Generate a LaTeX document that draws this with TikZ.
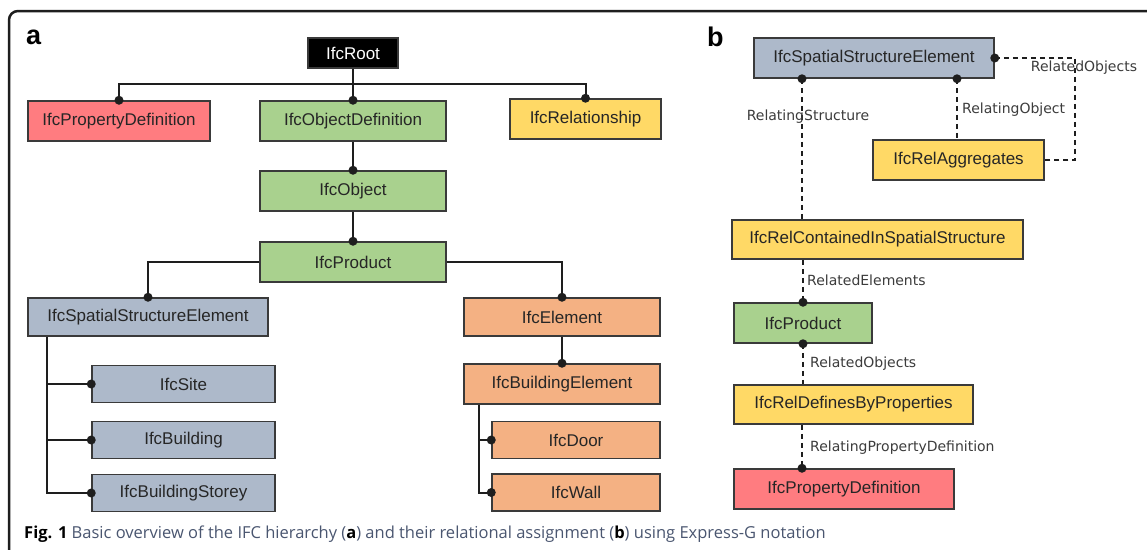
\documentclass[tikz,border=0pt]{standalone}
\usepackage{fontspec}
\setmainfont{Liberation Sans}
\newfontfamily\lblfont{DejaVu Sans}
\newfontfamily\capfont{Open Sans}
\definecolor{cpink}{HTML}{FF7C80}
\definecolor{cgreen}{HTML}{A9D18E}
\definecolor{cyellow}{HTML}{FFD966}
\definecolor{cblue}{HTML}{ADB9CA}
\definecolor{corange}{HTML}{F4B183}
\definecolor{cline}{HTML}{1E1E1E}
\definecolor{cborder}{HTML}{3A3A3A}
\definecolor{ctext}{HTML}{262626}
\definecolor{clabel}{HTML}{3C3C3C}
\definecolor{ccap}{HTML}{4A5670}
\begin{document}
\begin{tikzpicture}[x=1pt,y=-1pt,
  box/.style={draw=cborder,line width=1.5pt,inner sep=0pt,text=ctext,
    font=\fontsize{17}{17}\selectfont},
  conn/.style={draw=cline,line width=2pt},
  dconn/.style={draw=cline,line width=2pt,dash pattern=on 5pt off 4pt},
  dot/.style={circle,fill=cline,inner sep=0pt,minimum size=9pt},
  lbl/.style={text=clabel,inner sep=0pt,font=\lblfont\fontsize{14}{14}\selectfont},
  panel/.style={inner sep=0pt,font=\bfseries\fontsize{27}{27}\selectfont}]
\useasboundingbox (0,0) rectangle (1147,549);
\clip (0,0) rectangle (1147,549);
\fill[white] (0,0) rectangle (1147,549);
\draw[line width=2.5pt,draw=cline,rounded corners=9pt] (1160,11) -- (9,11) -- (9,560);

% panel labels
\node[panel,anchor=north west] (pa) at (26,30) {a};
\node[panel,anchor=north west] (pb) at (707,27) {b};

% ---------- panel a ----------
\node[box,fill=black,text=white,minimum width=90pt,minimum height=30pt] (root) at (353,53) {IfcRoot};
\node[box,fill=cpink,minimum width=182pt,minimum height=40pt] (propA) at (119,121) {IfcPropertyDefinition};
\node[box,fill=cgreen,minimum width=186pt,minimum height=40pt] (objdef) at (353,121) {IfcObjectDefinition};
\node[box,fill=cyellow,minimum width=151pt,minimum height=40pt] (rel) at (585.5,119) {IfcRelationship};
\node[box,fill=cgreen,minimum width=186pt,minimum height=40pt] (obj) at (353,191) {IfcObject};
\node[box,fill=cgreen,minimum width=186pt,minimum height=40pt] (prod) at (353,262) {IfcProduct};
\node[box,fill=cblue,minimum width=240pt,minimum height=38pt] (sseA) at (148,317) {IfcSpatialStructureElement};
\node[box,fill=cblue,minimum width=183pt,minimum height=37pt] (site) at (183.5,384) {IfcSite};
\node[box,fill=cblue,minimum width=183pt,minimum height=37pt] (bldg) at (183.5,440) {IfcBuilding};
\node[box,fill=cblue,minimum width=183pt,minimum height=37pt] (storey) at (183.5,493) {IfcBuildingStorey};
\node[box,fill=corange,minimum width=196pt,minimum height=38pt] (elem) at (562,317) {IfcElement};
\node[box,fill=corange,minimum width=196pt,minimum height=40pt] (belem) at (562,384) {IfcBuildingElement};
\node[box,fill=corange,minimum width=168pt,minimum height=37pt] (door) at (576,440) {IfcDoor};
\node[box,fill=corange,minimum width=168pt,minimum height=37pt] (wall) at (576,492.5) {IfcWall};

\coordinate (hbar) at (353,84);
\draw[conn] (root.south) -- (objdef.north);
\draw[conn] (propA.north) |- (hbar) -| (rel.north);
\draw[conn] (objdef.south) -- (obj.north);
\draw[conn] (obj.south) -- (prod.north);
\draw[conn] (prod.west) -| (sseA.north);
\draw[conn] (prod.east) -| (elem.north);
\draw[conn] (elem.south) -- (belem.north);
\coordinate (ta) at ([xshift=20pt]sseA.south west);
\draw[conn] (ta) |- (storey.west);
\draw[conn] (site.west -| ta) -- (site.west);
\draw[conn] (bldg.west -| ta) -- (bldg.west);
\coordinate (tb) at ([xshift=16pt]belem.south west);
\draw[conn] (tb) |- (wall.west);
\draw[conn] (door.west -| tb) -- (door.west);
\foreach \n in {objdef.north,propA.north,rel.north,obj.north,prod.north,sseA.north,elem.north,belem.north,site.west,bldg.west,storey.west,door.west,wall.west}
  \node[dot] at (\n) {};

% ---------- panel b ----------
\node[box,fill=cblue,minimum width=240pt,minimum height=40pt] (sseB) at (874,58) {IfcSpatialStructureElement};
\node[box,fill=cyellow,minimum width=171pt,minimum height=40pt] (agg) at (958.5,160) {IfcRelAggregates};
\node[box,fill=cyellow,minimum width=291pt,minimum height=39pt] (cont) at (877.5,239.5) {IfcRelContainedInSpatialStructure};
\node[box,fill=cgreen,minimum width=138pt,minimum height=40pt] (prodB) at (803,323) {IfcProduct};
\node[box,fill=cyellow,minimum width=239pt,minimum height=39pt] (defs) at (853.5,404.5) {IfcRelDefinesByProperties};
\node[box,fill=cpink,minimum width=220pt,minimum height=40pt] (propB) at (844,489) {IfcPropertyDefinition};

\coordinate (s1) at (sseB.south -| 802,0);
\coordinate (s2) at (sseB.south -| 957,0);
\coordinate (ra) at (1075,58);
\coordinate (p1) at (defs.south -| 802,0);
\coordinate (p2) at (propB.north -| 802,0);
\draw[dconn] (s1) -- (s1 |- cont.north);
\draw[dconn] (s2) -- (s2 |- agg.north);
\draw[dconn] (sseB.east) -- (ra) |- (agg.east);
\draw[dconn] (cont.south -| prodB.north) -- (prodB.north);
\draw[dconn] (prodB.south) -- (prodB.south |- defs.north);
\draw[dconn] (p1) -- (p2);
\foreach \n in {s1,s2,sseB.east,prodB.north,prodB.south,p2}
  \node[dot] at (\n) {};

\node[lbl] (l1) at (808,117) {RelatingStructure};
\node[lbl,anchor=west] (l2) at (962,110) {RelatingObject};
\node[lbl] (l3) at (1084,68) {RelatedObjects};
\node[lbl,anchor=west] (l4) at (807,280) {RelatedElements};
\node[lbl,anchor=west] (l5) at (810,364) {RelatedObjects};
\node[lbl,anchor=west] (l6) at (810,448) {RelatingPropertyDefinition};

% caption
\node[anchor=west,inner sep=0pt,text=ccap,font=\capfont\fontsize{16.5}{17}\selectfont] (cap) at (24,534)
  {\textcolor{black}{\bfseries Fig. 1} Basic overview of the IFC hierarchy (\textcolor{black}{\bfseries a}) and their relational assignment (\textcolor{black}{\bfseries b}) using Express-G notation};
\end{tikzpicture}
\end{document}
